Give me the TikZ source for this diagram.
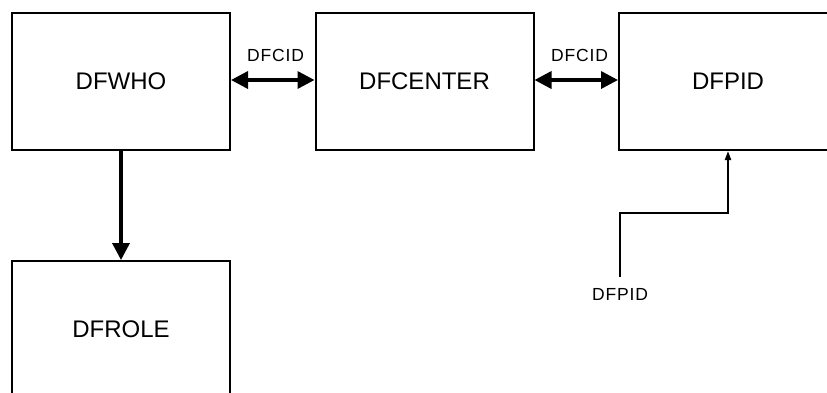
\documentclass[tikz,border=0pt]{standalone}
\usepackage{fontspec}
\setmainfont{Liberation Sans}
\usetikzlibrary{arrows.meta}
\tikzset{
  box/.style={draw, line width=2pt, minimum width=218pt, minimum height=137pt, inner sep=0pt,
    font=\fontsize{24}{28}\selectfont},
  heavy/.style={line width=3.5pt, {Triangle[length=17pt,width=17pt]}-{Triangle[length=17pt,width=17pt]}},
  heavyone/.style={line width=3.5pt, -{Triangle[length=17pt,width=17pt]}},
  thinarrow/.style={line width=2pt, -{Triangle[length=9pt,width=6pt]}},
  lbl/.style={font=\fontsize{17.5}{20}\selectfont\addfontfeature{LetterSpace=5}, inner sep=0pt}
}
\begin{document}
\begin{tikzpicture}[x=1pt,y=-1pt]
\useasboundingbox (0,0) rectangle (827,392);
\clip (0,0) rectangle (827,392);
\fill[white] (0,0) rectangle (827,392);
\node[box] (who) at (121,81.5) {DFWHO};
\node[box] (center) at (424.5,81.5) {DFCENTER};
\node[box] (pid) at (728,81.5) {DFPID};
\node[box] (role) at (121,329.5) {DFROLE};
\draw[heavy] (who.east |- 0,80) -- (center.west |- 0,80);
\draw[heavy] (center.east |- 0,80) -- (pid.west |- 0,80);
\node[lbl] (c1) at (275.5,55) {DFCID};
\node[lbl] (c2) at (579.5,55) {DFCID};
\draw[heavyone] (who.south) -- (role.north);
\coordinate (src) at (620,277);
\draw[thinarrow] (src) -- (620,212.5) -| (pid.south);
\node[lbl] (p1) at (620,294.5) {DFPID};
\end{tikzpicture}
\end{document}
